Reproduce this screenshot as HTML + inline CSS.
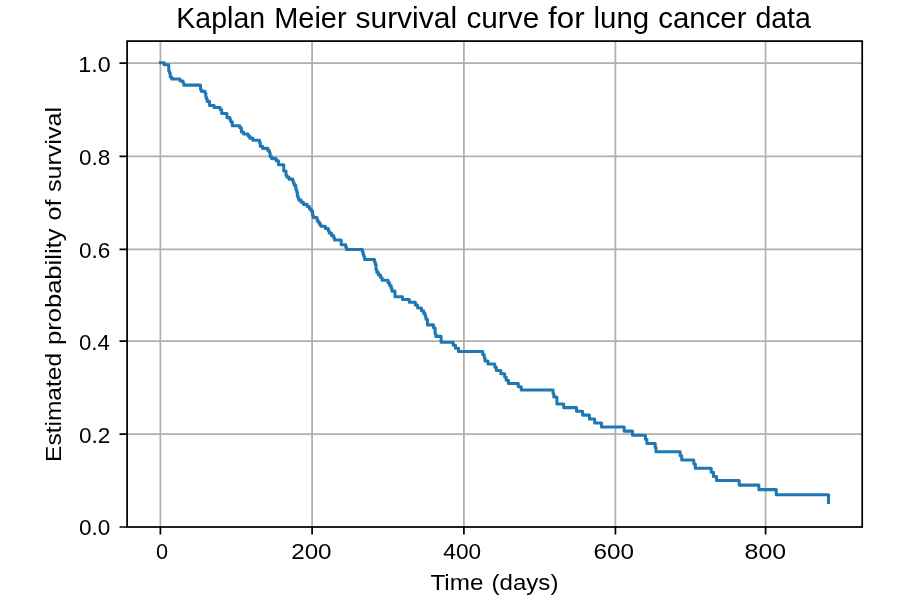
<!DOCTYPE html>
<html><head><meta charset="utf-8">
<title>Kaplan Meier survival curve for lung cancer data</title>
<style>
html,body{margin:0;padding:0;background:#fff;width:916px;height:614px;overflow:hidden}
svg{display:block;will-change:transform}
text{font-family:"Liberation Sans",sans-serif;fill:#000}
</style></head>
<body>
<svg width="916" height="614" viewBox="0 0 916 614">
<rect x="0" y="0" width="916" height="614" fill="#fff"/>
<g stroke="#b0b0b0" stroke-width="1.74" fill="none">
<path d="M160.4 41V527 M312.1 41V527 M463.9 41V527 M615.4 41V527 M765.6 41V527"/>
<path d="M127 434.07H862.2 M127 341.07H862.2 M127 249.4H862.2 M127 156.4H862.2 M127 63.2H862.2"/>
</g>
<path d="M160.40 62.80 H164.18 V64.83 H168.72 V70.92 H169.48 V72.96 H170.24 V77.02 H171.75 V79.05 H180.07 V81.08 H183.10 V83.11 H183.85 V85.14 H200.50 V89.20 H201.26 V91.24 H205.04 V93.27 H205.80 V97.33 H206.55 V99.36 H207.31 V101.39 H209.58 V105.45 H214.12 V107.49 H220.17 V109.52 H221.68 V113.58 H226.98 V117.64 H230.01 V119.67 H230.76 V121.71 H232.28 V125.80 H239.84 V127.84 H241.36 V131.94 H243.63 V133.99 H248.17 V136.04 H249.68 V138.10 H252.71 V140.15 H259.51 V142.20 H260.27 V146.30 H262.54 V148.36 H267.84 V150.41 H269.35 V152.46 H270.11 V156.56 H271.62 V158.62 H276.16 V160.67 H278.43 V164.77 H283.73 V170.93 H286.00 V175.03 H286.75 V177.08 H289.02 V179.13 H292.81 V181.21 H293.56 V183.30 H294.32 V185.39 H295.83 V189.59 H296.59 V191.69 H297.34 V195.90 H298.10 V198.00 H298.86 V200.10 H301.13 V202.22 H303.40 V204.35 H307.18 V206.51 H309.45 V208.68 H310.96 V210.87 H312.48 V215.24 H313.23 V217.43 H317.02 V219.65 H317.77 V221.87 H319.29 V224.09 H320.80 V226.32 H325.34 V228.56 H328.37 V230.81 H329.12 V233.08 H331.39 V235.40 H333.66 V237.73 H334.42 V240.05 H341.23 V244.78 H345.77 V247.18 H346.52 V249.58 H362.41 V252.05 H363.17 V254.52 H363.93 V256.98 H364.68 V259.47 H374.52 V262.04 H375.27 V264.60 H376.03 V269.77 H376.79 V272.36 H378.30 V274.95 H380.57 V277.53 H382.08 V280.18 H388.14 V282.88 H389.65 V285.61 H391.16 V288.37 H391.92 V291.13 H394.95 V296.65 H402.51 V299.45 H409.32 V302.25 H415.37 V305.08 H417.64 V307.91 H421.43 V310.74 H423.70 V313.57 H425.21 V316.40 H425.97 V319.23 H427.48 V324.89 H433.53 V327.77 H435.05 V333.51 H435.80 V336.38 H441.10 V342.21 H453.20 V345.27 H455.47 V348.33 H458.50 V351.40 H482.71 V354.57 H484.22 V357.74 H484.98 V360.91 H488.01 V364.09 H494.82 V367.26 H496.33 V370.43 H500.87 V373.67 H504.65 V376.91 H506.17 V380.15 H508.44 V383.46 H518.27 V386.77 H521.30 V390.09 H553.08 V393.57 H553.83 V397.05 H556.86 V404.02 H563.67 V407.60 H576.53 V411.30 H582.58 V415.12 H589.39 V419.07 H594.69 V423.03 H601.50 V426.99 H624.20 V431.11 H632.52 V435.23 H645.38 V439.35 H646.89 V443.47 H655.22 V447.59 H655.97 V451.72 H680.18 V455.84 H681.70 V459.96 H693.80 V464.08 H695.32 V468.20 H711.20 V472.32 H713.47 V476.44 H716.50 V480.57 H739.20 V485.10 H758.87 V489.63 H776.27 V494.81 H828.48 V502.58" fill="none" stroke="#1f77b4" stroke-width="3.05" stroke-linejoin="round" stroke-linecap="square"/>
<rect x="127.1" y="41.1" width="735.1" height="485.9" fill="none" stroke="#000" stroke-width="1.74" stroke-linecap="square"/>
<g stroke="#000" stroke-width="1.74">
<path d="M160.4 527V534.6 M312.1 527V534.6 M463.9 527V534.6 M615.4 527V534.6 M765.6 527V534.6"/>
<path d="M127.1 527H119.5 M127.1 434.07H119.5 M127.1 341.07H119.5 M127.1 249.4H119.5 M127.1 156.4H119.5 M127.1 63.2H119.5"/>
</g>
<text x="176.36" y="27.6" font-size="28.6" textLength="88.72" lengthAdjust="spacingAndGlyphs">Kaplan</text>
<text x="274.19" y="27.6" font-size="28.6" textLength="72.34" lengthAdjust="spacingAndGlyphs">Meier</text>
<text x="355.46" y="27.6" font-size="28.6" textLength="101.68" lengthAdjust="spacingAndGlyphs">survival</text>
<text x="466.40" y="27.6" font-size="28.6" textLength="72.88" lengthAdjust="spacingAndGlyphs">curve</text>
<text x="548.12" y="27.6" font-size="28.6" textLength="36.54" lengthAdjust="spacingAndGlyphs">for</text>
<text x="593.54" y="27.6" font-size="28.6" textLength="55.62" lengthAdjust="spacingAndGlyphs">lung</text>
<text x="658.26" y="27.6" font-size="28.6" textLength="88.26" lengthAdjust="spacingAndGlyphs">cancer</text>
<text x="755.39" y="27.6" font-size="28.6" textLength="55.51" lengthAdjust="spacingAndGlyphs">data</text>
<text x="430.48" y="589.99" font-size="21.244" textLength="52.92" lengthAdjust="spacingAndGlyphs">Time</text>
<text x="491.49" y="589.99" font-size="21.244" textLength="66.92" lengthAdjust="spacingAndGlyphs">(days)</text>
<text transform="translate(61.30 461.92) rotate(-90)" font-size="22.633" textLength="109.01" lengthAdjust="spacingAndGlyphs">Estimated</text>
<text transform="translate(61.30 345.02) rotate(-90)" font-size="22.633" textLength="116.51" lengthAdjust="spacingAndGlyphs">probability</text>
<text transform="translate(61.30 220.40) rotate(-90)" font-size="22.633" textLength="20.92" lengthAdjust="spacingAndGlyphs">of</text>
<text transform="translate(61.30 192.06) rotate(-90)" font-size="22.633" textLength="85.10" lengthAdjust="spacingAndGlyphs">survival</text>
<text x="79.01" y="535.36" font-size="22.61" textLength="31.40" lengthAdjust="spacingAndGlyphs">0.0</text>
<text x="78.90" y="442.58" font-size="22.58" textLength="31.38" lengthAdjust="spacingAndGlyphs">0.2</text>
<text x="78.95" y="349.60" font-size="22.52" textLength="30.84" lengthAdjust="spacingAndGlyphs">0.4</text>
<text x="78.99" y="257.76" font-size="22.59" textLength="31.39" lengthAdjust="spacingAndGlyphs">0.6</text>
<text x="78.99" y="164.76" font-size="22.59" textLength="31.35" lengthAdjust="spacingAndGlyphs">0.8</text>
<text x="78.38" y="71.59" font-size="22.52" textLength="32.41" lengthAdjust="spacingAndGlyphs">1.0</text>
<text x="155.98" y="558.70" font-size="21.89" textLength="12.08" lengthAdjust="spacingAndGlyphs">0</text>
<text x="291.16" y="558.68" font-size="21.70" textLength="40.45" lengthAdjust="spacingAndGlyphs">200</text>
<text x="443.30" y="558.70" font-size="21.67" textLength="37.80" lengthAdjust="spacingAndGlyphs">400</text>
<text x="593.53" y="558.70" font-size="21.79" textLength="40.50" lengthAdjust="spacingAndGlyphs">600</text>
<text x="744.59" y="558.70" font-size="21.73" textLength="41.53" lengthAdjust="spacingAndGlyphs">800</text>
</svg>
</body></html>
